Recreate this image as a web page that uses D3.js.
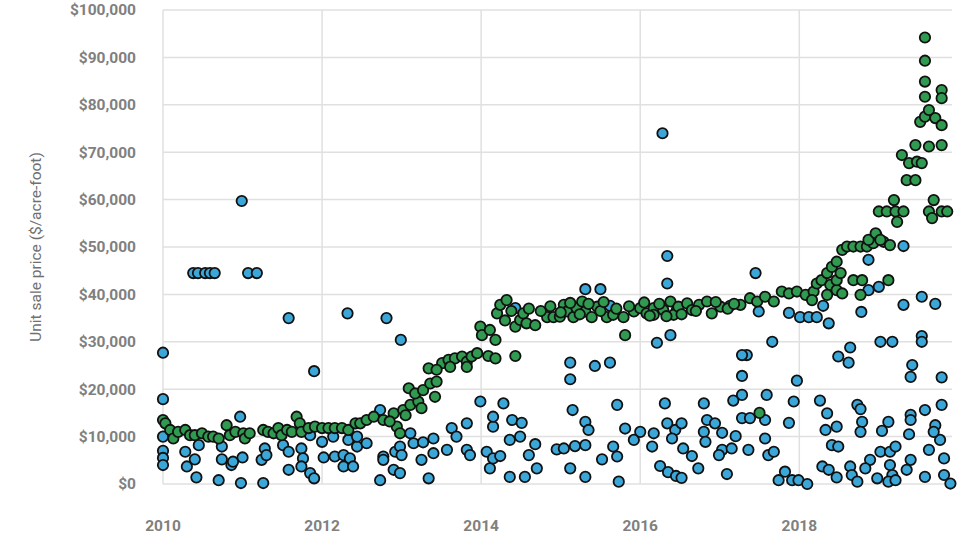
<!DOCTYPE html>
<html>
<head>
<meta charset="utf-8">
<script src="https://cdn.jsdelivr.net/npm/d3@7"></script>
<style>
  body { margin: 0; background: #fff; }
  .tick-label { font-family: Roboto, "Noto Sans", sans-serif; font-weight: bold; font-size: 15.5px; fill: #808080; }
  .axis-title { font-family: Roboto, "Noto Sans", sans-serif; font-size: 15.5px; fill: #707070; }
</style>
</head>
<body>
<div id="chart"></div>
<script>
// sales: [year, $ per acre-foot]
var blueSales = [
  [2010.00, 27700], [2010.00, 17900], [2010.00, 10000], [2010.00, 7000], [2010.00, 5500], [2010.00, 4000],
  [2010.38, 44500], [2010.44, 44500], [2010.53, 44500], [2010.59, 44500], [2010.65, 44500],
  [2011.07, 44500], [2011.18, 44500], [2010.99, 59700], [2011.58, 35000], [2011.90, 23800],
  [2012.32, 36000], [2012.81, 35000], [2012.99, 30400], [2010.97, 14200],
  [2010.28, 6800], [2010.40, 5200], [2010.30, 3700], [2010.42, 1400], [2010.70, 800],
  [2010.74, 7900], [2010.74, 5200], [2010.86, 4000], [2011.00, 5600], [2010.98, 200],
  [2011.26, 200], [2011.24, 5100], [2011.28, 7500], [2011.30, 6100], [2011.58, 3000],
  [2011.51, 8200], [2011.58, 6800], [2011.74, 7500], [2011.76, 5400], [2011.74, 3700],
  [2011.85, 2300], [2011.90, 1200], [2011.85, 10300], [2012.00, 8900], [2012.02, 5600],
  [2012.14, 10000], [2012.16, 5800], [2012.27, 6100], [2012.35, 5400], [2012.27, 3700],
  [2012.39, 3700], [2012.33, 9300], [2012.44, 7900], [2010.45, 8200], [2010.88, 4700],
  [2012.56, 8600], [2012.73, 15600], [2012.73, 800], [2012.77, 5800], [2012.77, 5100],
  [2012.90, 3000], [2012.98, 2300], [2012.92, 6800], [2012.98, 7900], [2013.00, 6100],
  [2013.11, 10700], [2013.15, 8600], [2013.27, 8800], [2013.40, 9600], [2013.25, 5100],
  [2013.40, 6500], [2013.34, 1200], [2013.57, 7200], [2013.63, 11800], [2013.69, 10000],
  [2013.82, 12800], [2013.82, 7200], [2013.86, 6100], [2013.99, 17400], [2014.07, 6800],
  [2014.11, 3300], [2014.15, 5400], [2014.15, 12100], [2014.28, 17000], [2014.15, 14200],
  [2014.39, 13500], [2014.51, 12900], [2014.36, 9300], [2014.49, 10000], [2014.68, 8400],
  [2014.95, 7300], [2014.24, 5900], [2014.60, 6100], [2014.70, 3300], [2014.55, 1500],
  [2014.36, 1500], [2012.44, 10000],
  [2016.34, 48100], [2016.34, 42300], [2015.31, 41100], [2015.50, 41100], [2014.43, 37100],
  [2015.62, 37600], [2016.23, 37600], [2016.21, 29800], [2016.38, 31400], [2015.12, 25600],
  [2015.43, 24900], [2015.62, 25600], [2015.12, 22100], [2015.15, 15600], [2015.71, 16700],
  [2016.31, 17000], [2015.31, 13100], [2015.35, 11400], [2015.81, 11700], [2016.00, 11000],
  [2016.17, 10700], [2016.34, 12800], [2016.44, 11400], [2015.04, 7500], [2015.18, 8000],
  [2015.31, 8200], [2015.66, 7900], [2015.52, 5200], [2015.71, 5800], [2015.12, 3300],
  [2015.31, 1500], [2015.73, 500], [2016.15, 7900], [2016.25, 3800], [2016.35, 2500],
  [2016.45, 1700], [2016.52, 1300],
  [2017.28, 22800], [2017.28, 18800], [2017.17, 17600], [2016.80, 17000], [2016.52, 12800],
  [2016.40, 9600], [2016.84, 13500], [2016.94, 12800], [2016.80, 11000], [2016.82, 8900],
  [2017.03, 10800], [2017.20, 10100], [2017.28, 13900], [2017.38, 13900], [2015.92, 9300],
  [2016.54, 7500], [2016.65, 5900], [2017.03, 7200], [2017.15, 7500], [2016.99, 6100],
  [2017.36, 7200], [2016.73, 3300], [2017.09, 2100],
  [2017.97, 21800], [2019.40, 22600], [2019.79, 22500], [2017.59, 18800], [2017.93, 17400],
  [2018.26, 17600], [2018.73, 16700], [2018.77, 15800], [2019.79, 16700], [2019.58, 15600],
  [2017.57, 13500], [2017.87, 12900], [2018.35, 14900], [2018.47, 12100], [2018.33, 11400],
  [2018.79, 13100], [2018.77, 11000], [2019.04, 11200], [2019.12, 13100], [2019.40, 14600],
  [2019.40, 13500], [2019.38, 10500], [2019.71, 12400], [2019.77, 9300], [2019.69, 11000],
  [2017.57, 9600], [2017.61, 6100], [2017.68, 6800], [2018.41, 8200], [2018.49, 7900],
  [2019.02, 6800], [2019.14, 6800], [2019.21, 7900], [2019.63, 7200], [2019.82, 5400],
  [2018.89, 5100], [2018.83, 3300], [2019.14, 4000], [2019.17, 1900], [2019.35, 3000],
  [2019.40, 5100], [2017.82, 2600], [2017.74, 800], [2017.91, 800], [2017.99, 800],
  [2018.10, 0], [2018.29, 3700], [2018.37, 3000], [2018.47, 1400], [2018.64, 3700],
  [2018.66, 1900], [2018.73, 500], [2018.98, 1200], [2019.12, 500], [2019.21, 800],
  [2019.58, 1500], [2019.82, 1900], [2019.90, 100],
  [2017.45, 44500], [2017.13, 37600], [2017.49, 36400], [2017.66, 30000], [2017.34, 27200],
  [2017.28, 27200], [2017.87, 36100], [2018.01, 35200], [2018.12, 35200], [2018.22, 35200],
  [2018.30, 37600], [2018.37, 33900], [2018.87, 47300], [2019.31, 50200], [2018.87, 40900],
  [2019.00, 41600], [2018.78, 36300], [2018.49, 26900], [2018.64, 28800], [2018.62, 25600],
  [2019.02, 30000], [2019.17, 30000], [2019.31, 37800], [2019.54, 39500], [2019.71, 38000],
  [2019.54, 31200], [2019.54, 30000], [2019.42, 25100], [2016.28, 74000]
];

var greenSales = [
  [2010.00, 13500], [2010.03, 12800], [2010.09, 11400], [2010.13, 9600], [2010.19, 11000],
  [2010.28, 11400], [2010.34, 10300], [2010.40, 10300], [2010.49, 10700], [2010.57, 10000],
  [2010.63, 10000], [2010.70, 9600], [2010.80, 12400], [2010.84, 10300], [2010.91, 11000],
  [2011.01, 10700], [2011.03, 9600], [2011.09, 10700], [2011.26, 11400], [2011.32, 11000],
  [2011.39, 10700], [2011.45, 11800], [2011.49, 10300], [2011.56, 11400], [2011.62, 11000],
  [2011.68, 14200], [2011.72, 12800], [2011.74, 11000], [2011.83, 11800], [2011.91, 12100],
  [2012.00, 11800], [2012.08, 11800], [2012.16, 11800], [2012.25, 11800], [2012.33, 11400],
  [2012.42, 12800], [2012.48, 12800], [2012.56, 13500], [2012.65, 14200], [2012.77, 13500],
  [2012.90, 14900], [2013.02, 15600], [2013.11, 16700], [2013.21, 17400], [2012.94, 12100],
  [2012.98, 10700], [2013.09, 20200], [2013.17, 19100], [2013.27, 19800], [2013.36, 21200],
  [2013.42, 18400], [2013.44, 21600], [2013.34, 24400], [2013.51, 25500], [2013.59, 26200],
  [2013.67, 26500], [2013.76, 26900], [2013.82, 25800], [2013.88, 26900], [2013.95, 27600],
  [2014.09, 27000], [2014.18, 26500], [2014.43, 27000], [2013.44, 24100], [2013.61, 24700],
  [2013.82, 24700], [2013.99, 33200], [2014.01, 31400], [2014.11, 32500], [2014.18, 30400],
  [2014.20, 36000], [2014.24, 37800], [2014.32, 38800], [2014.43, 33200], [2014.49, 34600],
  [2014.53, 36000], [2014.57, 33900], [2014.68, 33500], [2014.83, 35200], [2014.91, 35200],
  [2014.99, 35300], [2015.04, 37800], [2015.08, 36400], [2015.16, 35200], [2015.20, 37100],
  [2015.27, 38500], [2015.31, 36400], [2015.39, 35200], [2015.46, 37400], [2015.58, 35200],
  [2015.66, 35700], [2015.79, 35200], [2015.92, 36400], [2016.00, 37100], [2016.08, 36000],
  [2016.17, 37100], [2016.29, 36700], [2016.38, 38500], [2016.46, 36700], [2015.81, 31400],
  [2016.17, 35700], [2016.42, 35700], [2016.48, 37400], [2016.59, 38100], [2016.65, 36700],
  [2016.74, 37800], [2016.84, 38500], [2016.90, 36000], [2017.01, 37400], [2017.26, 37800],
  [2017.38, 39200], [2017.47, 38500], [2017.57, 39500], [2017.68, 38500], [2017.78, 40600],
  [2017.87, 40200], [2017.97, 40600], [2018.08, 39900], [2018.18, 40600], [2018.22, 42300],
  [2018.28, 43000], [2018.35, 44500], [2018.41, 45800], [2018.47, 46900], [2018.54, 49400],
  [2018.60, 50100], [2018.68, 50100], [2018.77, 50100], [2018.85, 50100], [2018.93, 50800],
  [2018.97, 52500], [2019.06, 51100], [2019.14, 50400], [2018.39, 42000], [2018.47, 40900],
  [2018.54, 40200], [2018.35, 39900], [2018.16, 38800], [2018.47, 43000], [2018.52, 44500],
  [2018.68, 43000], [2018.79, 43000], [2018.77, 39900], [2019.12, 43000], [2017.50, 15000],
  [2018.87, 51500], [2018.96, 52900], [2019.02, 51500], [2019.00, 57500], [2019.10, 57500],
  [2019.21, 57500], [2019.31, 57500], [2019.19, 59900], [2019.23, 55300], [2019.63, 57500],
  [2019.69, 59900], [2019.79, 57500], [2019.86, 57500], [2019.67, 56100], [2019.35, 64100],
  [2019.46, 64100], [2019.29, 69400], [2019.38, 67700], [2019.48, 68000], [2019.54, 67700],
  [2019.46, 71500], [2019.63, 71200], [2019.79, 71500], [2019.52, 76400], [2019.58, 77500],
  [2019.71, 77200], [2019.79, 75700], [2019.63, 78900], [2019.58, 81700], [2019.58, 84900],
  [2019.79, 83100], [2019.79, 81400], [2019.58, 89300], [2019.58, 94200],
  [2014.30, 34500], [2014.38, 36500], [2014.60, 37000], [2014.75, 36500], [2014.87, 37500],
  [2015.00, 36200], [2015.12, 38200], [2015.24, 35800], [2015.35, 38000], [2015.50, 36500],
  [2015.54, 38400], [2015.70, 37000], [2015.86, 37500], [2016.05, 38300], [2016.12, 35500],
  [2016.24, 38000], [2016.33, 35400], [2016.52, 35800], [2016.70, 36500], [2016.95, 38400],
  [2017.10, 37000], [2017.18, 38000], [2012.85, 13200], [2013.05, 14500], [2013.25, 16000]
];

var yTicks = [0, 10000, 20000, 30000, 40000, 50000, 60000, 70000, 80000, 90000, 100000];
var xTicks = [2010, 2012, 2014, 2016, 2018];
var yTitle = "Unit sale price ($/acre-foot)";

var width = 967;
var height = 538;
var margin = { top: 10, right: 15, bottom: 54, left: 163 };
var innerW = width - margin.left - margin.right;
var innerH = height - margin.top - margin.bottom;

var svg = d3.select("#chart")
    .append("svg")
    .attr("width", width)
    .attr("height", height);

var g = svg.append("g")
    .attr("transform", `translate(${margin.left},${margin.top})`);

var x = d3.scaleLinear()
    .domain([2010, 2020])
    .range([0, innerW * 10 / 9.92]);

var y = d3.scaleLinear()
    .domain([0, 100000])
    .range([innerH, 0]);

// grid
g.append("g")
    .selectAll("line")
    .data(yTicks)
    .join("line")
    .attr("x1", 0)
    .attr("x2", innerW)
    .attr("y1", d => y(d))
    .attr("y2", d => y(d))
    .attr("stroke", "#e0e0e0")
    .attr("stroke-width", 1.5);

g.append("g")
    .selectAll("line")
    .data(xTicks)
    .join("line")
    .attr("x1", d => x(d))
    .attr("x2", d => x(d))
    .attr("y1", 0)
    .attr("y2", innerH)
    .attr("stroke", "#e0e0e0")
    .attr("stroke-width", 1.5);

// tick labels
var fmt = d3.format(",");
g.append("g")
    .selectAll("text")
    .data(yTicks)
    .join("text")
    .attr("class", "tick-label")
    .attr("x", -27)
    .attr("y", d => y(d))
    .attr("dy", "0.35em")
    .attr("text-anchor", "end")
    .text(d => "$" + fmt(d));

g.append("g")
    .selectAll("text")
    .data(xTicks)
    .join("text")
    .attr("class", "tick-label")
    .attr("x", d => x(d))
    .attr("y", innerH + 47)
    .attr("text-anchor", "middle")
    .text(d => d);

svg.append("text")
    .attr("class", "axis-title")
    .attr("transform", `translate(41,${margin.top + innerH / 2}) rotate(-90)`)
    .attr("text-anchor", "middle")
    .text(yTitle);

// points
function drawPoints(data, fill) {
    g.append("g")
        .selectAll("circle")
        .data(data)
        .join("circle")
        .attr("cx", d => x(d[0]))
        .attr("cy", d => y(d[1]))
        .attr("r", 5.2)
        .attr("fill", fill)
        .attr("stroke", "#111")
        .attr("stroke-width", 1.8);
}

drawPoints(blueSales, "#3ba7d9");
drawPoints(greenSales, "#2f9a50");
</script>
</body>
</html>
